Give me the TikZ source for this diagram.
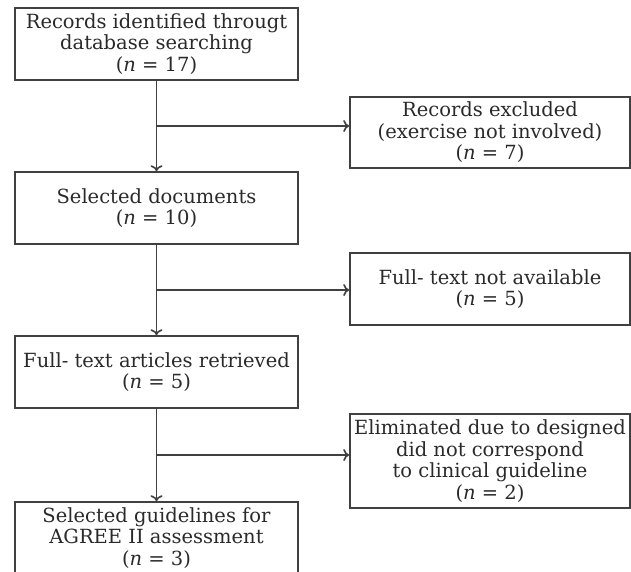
\documentclass[tikz,border=0pt]{standalone}
\usepackage{fontspec}
\setmainfont{DejaVu Serif}
\usetikzlibrary{arrows.meta}
\definecolor{lc}{HTML}{404040}
\definecolor{tc}{HTML}{2a2a2a}
\begin{document}
\begin{tikzpicture}[x=1pt,y=-1pt,
  box/.style={draw=lc, line width=1.6pt, align=center, text=tc, inner sep=0pt,
    font=\fontsize{19.5}{21.5}\selectfont},
  mainbox/.style={box, minimum width=283pt},
  sidebox/.style={box, minimum width=280pt},
  arr/.style={draw=lc, line width=1.6pt, -{To[length=6pt,width=12pt]}},
  ln/.style={draw=lc, line width=1.6pt}]
\useasboundingbox (0,0) rectangle (631,571);
\node[mainbox, minimum height=72pt] (b1) at (156.5,44) {Records identified througt\\database searching\\(\textit{n} = 17)};
\node[mainbox, minimum height=72pt] (b2) at (156.5,208) {Selected documents\\(\textit{n} = 10)};
\node[mainbox, minimum height=72pt] (b3) at (156.5,372) {Full- text articles retrieved\\(\textit{n} = 5)};
\node[mainbox, minimum height=72pt] (b4) at (156.5,538) {Selected guidelines for\\AGREE II assessment\\(\textit{n} = 3)};
\node[sidebox, minimum height=71pt] (s1) at (490,132.5) {Records excluded\\(exercise not involved)\\(\textit{n} = 7)};
\node[sidebox, minimum height=72pt] (s2) at (490,289) {Full- text not available\\(\textit{n} = 5)};
\node[sidebox, minimum height=94pt] (s3) at (490,461) {Eliminated due to designed\\did not correspond\\to clinical guideline\\(\textit{n} = 2)};
\coordinate (j1) at (156.5,126);
\coordinate (j2) at (156.5,290);
\coordinate (j3) at (156.5,455);
\draw[arr] (b1.south) -- (b2.north);
\draw[arr] (b2.south) -- (b3.north);
\draw[arr] (b3.south) -- (b4.north);
\draw[arr] (j1) -- (s1.west |- j1);
\draw[arr] (j2) -- (s2.west |- j2);
\draw[arr] (j3) -- (s3.west |- j3);
\end{tikzpicture}
\end{document}
